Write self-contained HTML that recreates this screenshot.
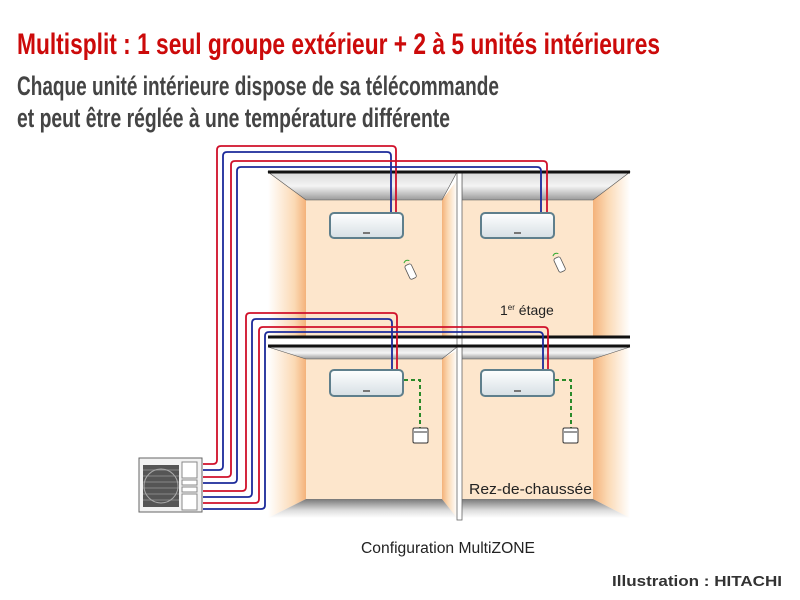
<!DOCTYPE html>
<html><head><meta charset="utf-8"><style>
html,body{margin:0;padding:0;background:#fff;width:800px;height:600px;overflow:hidden}
</style></head><body>
<svg width="800" height="600" viewBox="0 0 800 600" xmlns="http://www.w3.org/2000/svg">
<defs>
<linearGradient id="ceil" x1="0" y1="0" x2="0" y2="1"><stop offset="0" stop-color="#d8d8d8"/><stop offset="0.5" stop-color="#f4f4f4"/><stop offset="1" stop-color="#9a9a9a"/></linearGradient>
<linearGradient id="floor" x1="0" y1="0" x2="0" y2="1"><stop offset="0" stop-color="#777"/><stop offset="0.6" stop-color="#ddd"/><stop offset="1" stop-color="#fff"/></linearGradient>
<linearGradient id="lw" x1="0" y1="0" x2="1" y2="0"><stop offset="0" stop-color="#fff"/><stop offset="0.7" stop-color="#fbd9b4"/><stop offset="1" stop-color="#f4b27a"/></linearGradient>
<linearGradient id="rw" x1="0" y1="0" x2="1" y2="0"><stop offset="0" stop-color="#f4b27a"/><stop offset="0.4" stop-color="#fbd9b4"/><stop offset="1" stop-color="#fff"/></linearGradient>
<linearGradient id="ac" x1="0" y1="0" x2="0" y2="1"><stop offset="0" stop-color="#fff"/><stop offset="1" stop-color="#d6dfe4"/></linearGradient>
</defs>
<text x="17" y="54" font-family="Liberation Sans Narrow, Liberation Sans, sans-serif" font-weight="bold" font-size="30" fill="#cc0a0a" textLength="643" lengthAdjust="spacingAndGlyphs">Multisplit : 1 seul groupe extérieur + 2 à 5 unités intérieures</text>
<text x="17" y="95" font-family="Liberation Sans Narrow, Liberation Sans, sans-serif" font-weight="bold" font-size="27" fill="#444" textLength="482" lengthAdjust="spacingAndGlyphs">Chaque unité intérieure dispose de sa télécommande</text>
<text x="17" y="127" font-family="Liberation Sans Narrow, Liberation Sans, sans-serif" font-weight="bold" font-size="27" fill="#444" textLength="433" lengthAdjust="spacingAndGlyphs">et peut être réglée à une température différente</text>

<rect x="306" y="200" width="136" height="136" fill="#fde6cc"/>
<rect x="462" y="200" width="131" height="136" fill="#fde6cc"/>
<polygon points="268,172 306,200 306,336 268,336" fill="url(#lw)"/>
<polygon points="442,200 457,180 457,336 442,336" fill="url(#rw)"/>
<polygon points="593,200 630,172 630,336 593,336" fill="url(#rw)"/>
<polygon points="268,172 457,172 442,200 306,200" fill="url(#ceil)" stroke="#555" stroke-width="0.6"/>
<polygon points="462,172 630,172 593,200 462,200" fill="url(#ceil)" stroke="#555" stroke-width="0.6"/>
<rect x="306" y="359" width="136" height="140" fill="#fde6cc"/>
<rect x="462" y="359" width="131" height="140" fill="#fde6cc"/>
<polygon points="268,347 306,359 306,499 268,518" fill="url(#lw)"/>
<polygon points="442,359 457,350 457,518 442,499" fill="url(#rw)"/>
<polygon points="593,359 630,347 630,518 593,499" fill="url(#rw)"/>
<polygon points="268,347 457,347 442,359 306,359" fill="url(#ceil)" stroke="#555" stroke-width="0.6"/>
<polygon points="462,347 630,347 593,359 462,359" fill="url(#ceil)" stroke="#555" stroke-width="0.6"/>
<polygon points="306,499 442,499 457,518 268,518" fill="url(#floor)"/>
<polygon points="462,499 593,499 630,518 462,518" fill="url(#floor)"/>
<rect x="457" y="172" width="5" height="348" fill="#fff" stroke="#666" stroke-width="0.8"/>
<line x1="268" y1="172" x2="630" y2="172" stroke="#111" stroke-width="3"/>
<line x1="268" y1="337" x2="630" y2="337" stroke="#111" stroke-width="3"/>
<line x1="268" y1="346" x2="630" y2="346" stroke="#111" stroke-width="3"/>

<g fill="none" stroke-width="1.8" stroke-linejoin="round">
<path d="M203,464 H213 q4,0 4,-4 V150 q0,-4 4,-4 H392 q4,0 4,4 V213" stroke="#d0102a"/>
<path d="M203,470 H219 q4,0 4,-4 V156 q0,-4 4,-4 H387 q4,0 4,4 V213" stroke="#1b2a9a"/>
<path d="M203,477 H227 q4,0 4,-4 V165 q0,-4 4,-4 H543 q4,0 4,4 V213" stroke="#d0102a"/>
<path d="M203,483 H233 q4,0 4,-4 V171 q0,-4 4,-4 H537 q4,0 4,4 V213" stroke="#1b2a9a"/>
<path d="M203,491 H242 q4,0 4,-4 V317 q0,-4 4,-4 H393 q4,0 4,4 V370" stroke="#d0102a"/>
<path d="M203,497 H248 q4,0 4,-4 V323 q0,-4 4,-4 H388 q4,0 4,4 V370" stroke="#1b2a9a"/>
<path d="M203,503 H255 q4,0 4,-4 V331 q0,-4 4,-4 H544 q4,0 4,4 V370" stroke="#d0102a"/>
<path d="M203,509 H261 q4,0 4,-4 V336 q0,-4 4,-4 H539 q4,0 4,4 V370" stroke="#1b2a9a"/>
</g>

<g stroke="#5f7f8c" stroke-width="2" fill="url(#ac)">
<rect x="330" y="213" width="73" height="25" rx="4"/>
<rect x="481" y="213" width="73" height="25" rx="4"/>
<rect x="330" y="370" width="73" height="26" rx="4"/>
<rect x="481" y="370" width="73" height="26" rx="4"/>
</g>
<g fill="#777"><rect x="363" y="232" width="7" height="2"/><rect x="514" y="232" width="7" height="2"/><rect x="363" y="390" width="7" height="2"/><rect x="514" y="390" width="7" height="2"/></g>

<g transform="translate(407,265) rotate(-25)"><rect x="-3" y="0" width="7" height="15" rx="2" fill="#fff" stroke="#555" stroke-width="0.8"/><path d="M-2,-3 q3,-3 6,0" stroke="#3a3" fill="none"/></g>
<g transform="translate(556,258) rotate(-25)"><rect x="-3" y="0" width="7" height="15" rx="2" fill="#fff" stroke="#555" stroke-width="0.8"/><path d="M-2,-3 q3,-3 6,0" stroke="#3a3" fill="none"/></g>

<g fill="none" stroke="#2a8a2a" stroke-width="2" stroke-dasharray="4,3">
<path d="M404,380 H420 V428"/><path d="M555,380 H571 V428"/>
</g>
<g fill="#fff" stroke="#333" stroke-width="1"><rect x="413" y="428" width="15" height="15" rx="1.5"/><rect x="563" y="428" width="15" height="15" rx="1.5"/></g>
<line x1="414" y1="432" x2="427" y2="432" stroke="#333"/><line x1="564" y1="432" x2="577" y2="432" stroke="#333"/>

<rect x="139" y="458" width="63" height="54" fill="#f2f2f2" stroke="#666"/>
<rect x="143" y="465" width="36" height="42" fill="#555"/>
<g stroke="#999" stroke-width="0.8"><line x1="143" y1="470" x2="179" y2="470"/><line x1="143" y1="476" x2="179" y2="476"/><line x1="143" y1="482" x2="179" y2="482"/><line x1="143" y1="488" x2="179" y2="488"/><line x1="143" y1="494" x2="179" y2="494"/><line x1="143" y1="500" x2="179" y2="500"/></g>
<circle cx="161" cy="486" r="17" fill="none" stroke="#aaa"/>
<rect x="182" y="462" width="15" height="16" fill="#fff" stroke="#888"/>
<rect x="182" y="480" width="15" height="5" fill="#fff" stroke="#888"/>
<rect x="182" y="487" width="15" height="5" fill="#fff" stroke="#888"/>
<rect x="182" y="494" width="15" height="16" fill="#fff" stroke="#888"/>

<text x="500" y="315" font-family="Liberation Sans, sans-serif" font-size="14" fill="#222">1<tspan font-size="8" dy="-5">er</tspan><tspan dy="5"> étage</tspan></text>
<text x="469" y="494" font-family="Liberation Sans, sans-serif" font-size="15" fill="#222" textLength="123" lengthAdjust="spacingAndGlyphs">Rez-de-chaussée</text>
<text x="361" y="553" font-family="Liberation Sans, sans-serif" font-size="15.5" fill="#222" textLength="174" lengthAdjust="spacingAndGlyphs">Configuration MultiZONE</text>
<text x="612" y="586" font-family="Liberation Sans, sans-serif" font-weight="bold" font-size="15" fill="#333" textLength="170" lengthAdjust="spacingAndGlyphs">Illustration : HITACHI</text>
</svg>
</body></html>
